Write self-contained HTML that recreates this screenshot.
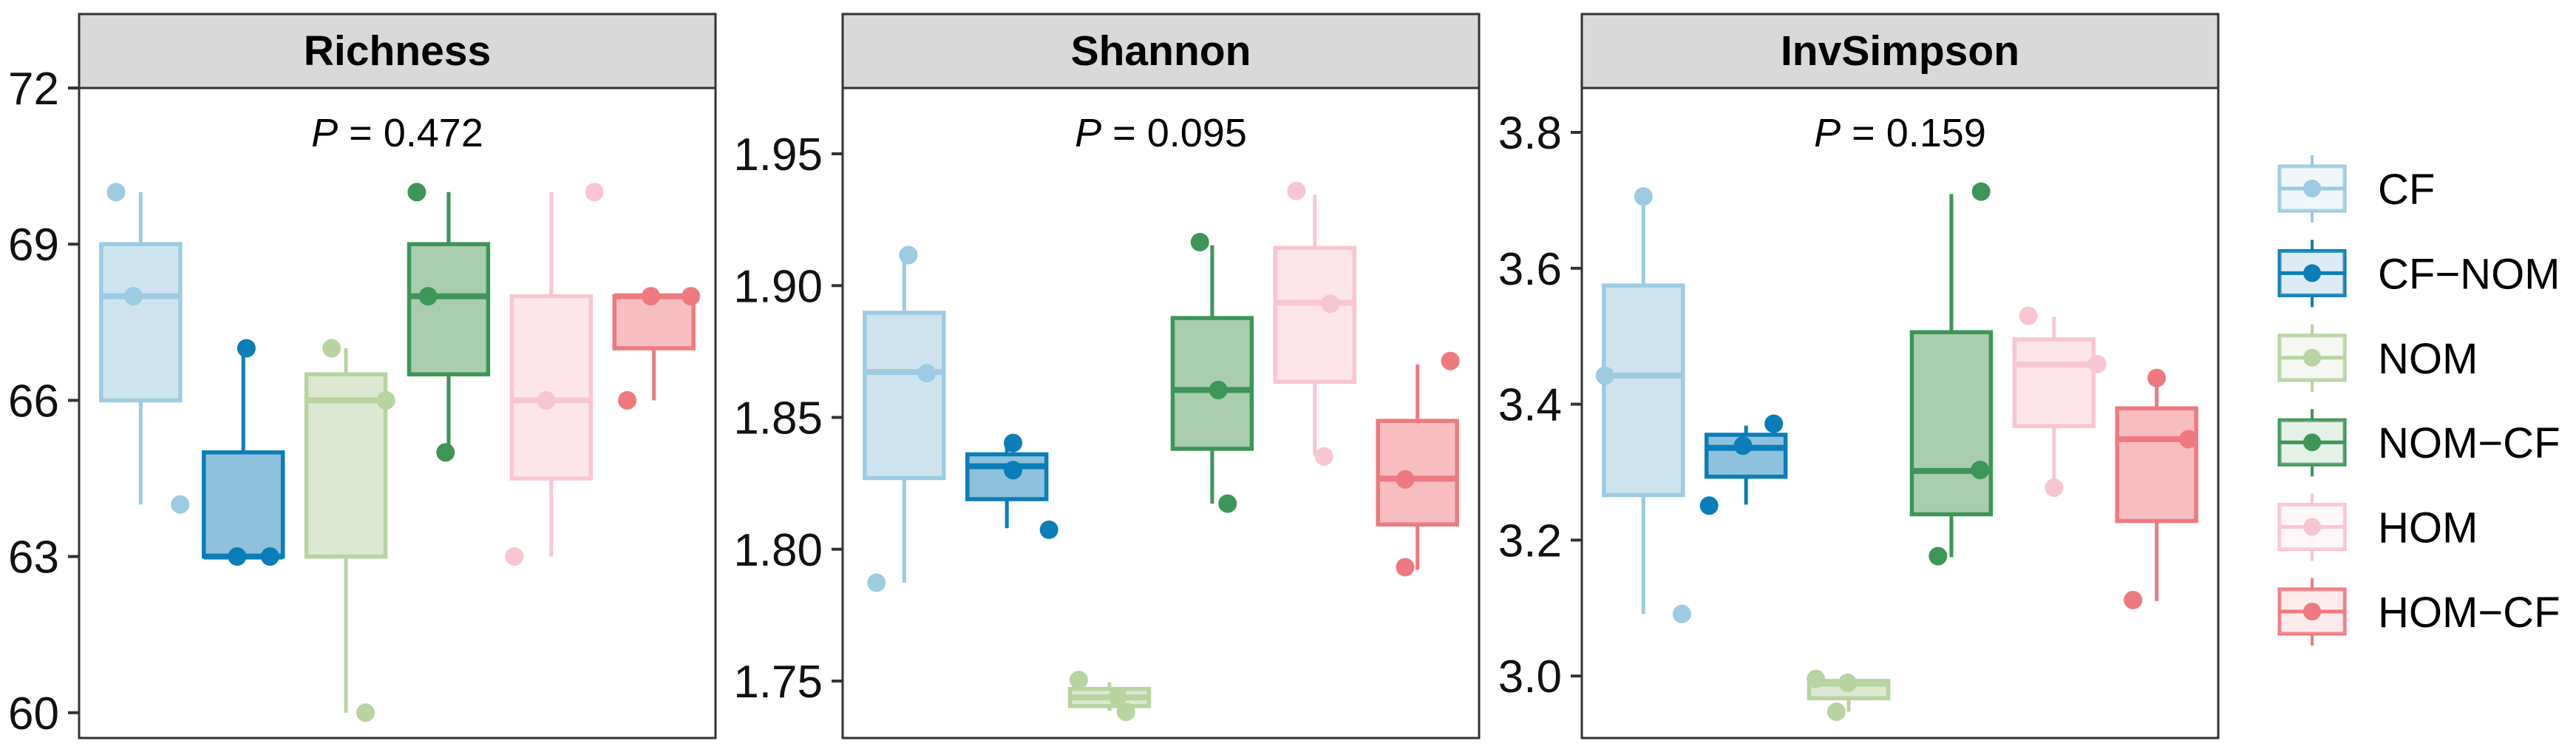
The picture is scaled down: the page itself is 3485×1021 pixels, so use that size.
<!DOCTYPE html>
<html><head><meta charset="utf-8"><style>
html,body{margin:0;padding:0;background:#fff;}
svg{display:block;font-family:"Liberation Sans",Arial,sans-serif;}
</style></head><body>
<svg id="chart" width="3485" height="1021" viewBox="0 0 3485 1021" xmlns="http://www.w3.org/2000/svg"></svg>
<script>
const groups = ["CF","CF-NOM","NOM","NOM-CF","HOM","HOM-CF"];
const strokeColors = ["#9ccbe2","#0b7db8","#b7d4a1","#3d9558","#f8c6d2","#ee7a80"];
const fillColors = ["#cde4ef","#8dc1dc","#dce9d0","#a9cdad","#fde5ea","#f7bdbf"];
const panelTitles = ["Richness","Shannon","InvSimpson"];
const pLabels = ["0.472","0.095","0.159"];
const richnessTicks = [60,63,66,69,72];
const shannonTicks = [1.75,1.80,1.85,1.90,1.95];
const invTicks = [3.0,3.2,3.4,3.6,3.8];
const tickLabels = [["60","63","66","69","72"],["1.75","1.80","1.85","1.90","1.95"],["3.0","3.2","3.4","3.6","3.8"]];
// [lowWhisker, q1, median, q3, highWhisker]
const richnessStats = [[64,66,68,69,70],[63,63,63,65,67],[60,63,66,66.5,67],[65,66.5,68,69,70],[63,64.5,66,68,70],[66,67,68,68,68]];
const richnessPoints = [[70,68,64],[67,63,63],[67,66,60],[70,68,65],[70,66,63],[68,68,66]];
const richnessJitter = [[-0.24,-0.07,0.385],[0.03,-0.06,0.26],[-0.14,0.39,0.19],[-0.31,-0.2,-0.03],[0.42,-0.05,-0.36],[-0.03,0.36,-0.26]];
const shannonStats = [[1.7873,1.827,1.8672,1.8897,1.9089],[1.808,1.819,1.8315,1.836,1.839],[1.7387,1.7405,1.7438,1.747,1.7496],[1.8173,1.8381,1.8604,1.8877,1.9153],[1.8354,1.8635,1.8935,1.9143,1.9345],[1.7922,1.8094,1.8268,1.8487,1.8701]];
const shannonPoints = [[1.9116,1.8668,1.7873],[1.8403,1.830,1.8074],[1.7504,1.7383,1.744],[1.9165,1.8604,1.8173],[1.9359,1.8931,1.8352],[1.8714,1.8265,1.7932]];
const shannonJitter = [[0.04,0.22,-0.27],[0.06,0.06,0.41],[-0.30,0.16,0.08],[-0.12,0.06,0.15],[-0.18,0.15,0.09],[0.32,-0.12,-0.12]];
const invStats = [[3.0913,3.2663,3.4421,3.5746,3.7057],[3.2522,3.2933,3.3358,3.355,3.3684],[2.9474,2.9673,2.9886,2.9928,2.9957],[3.1749,3.238,3.3018,3.5059,3.7093],[3.277,3.3677,3.4584,3.4953,3.5286],[3.1104,3.2281,3.3485,3.3939,3.4386]];
const invPoints = [[3.7057,3.442,3.0913],[3.3712,3.339,3.2507],[2.9957,2.99,2.9474],[3.7128,3.3032,3.1764],[3.53,3.4591,3.277],[3.4386,3.3485,3.1118]];
const invJitter = [[0,-0.375,0.375],[0.27,-0.03,-0.36],[-0.32,-0.01,-0.12],[0.29,0.28,-0.13],[-0.25,0.42,0],[0,0.31,-0.23]];

const NS="http://www.w3.org/2000/svg";
const svg=document.getElementById('chart');
function mk(tag,attrs,parent){const e=document.createElementNS(NS,tag);for(const k in attrs)e.setAttribute(k,attrs[k]);(parent||svg).appendChild(e);return e;}

const panelX=[107,1140,2140], panelW=861, stripTop=19, stripBot=119, panelBot=998;
const yRef=[[72,119,70.4],[1.95,208,3565],[3.8,179,919]];
const statsAll=[richnessStats,shannonStats,invStats];
const pointsAll=[richnessPoints,shannonPoints,invPoints];
const jitterAll=[richnessJitter,shannonJitter,invJitter];
const ticksAll=[richnessTicks,shannonTicks,invTicks];
const unit=panelW/6.2;

for(let p=0;p<3;p++){
  const x0=panelX[p];
  const yS=v=>yRef[p][1]+(yRef[p][0]-v)*yRef[p][2];
  const xS=(i,off)=>x0+(i+0.6+off)*unit;
  const g=mk('g',{});
  
  
  const clipId='clip'+p;
  const cp=mk('clipPath',{id:clipId},g);
  mk('rect',{x:x0,y:stripBot,width:panelW,height:panelBot-stripBot},cp);
  const strip=mk('rect',{x:x0,y:stripTop,width:panelW,height:stripBot-stripTop,fill:'#d9d9d9',stroke:'#333',"stroke-width":3},g);
  
  
  const st=mk('text',{x:x0+panelW/2,y:88,"text-anchor":"middle","font-size":57,"font-weight":"bold",fill:'#000'},g);
  st.textContent=panelTitles[p];
  
  
  const bg=mk('rect',{x:x0,y:stripBot,width:panelW,height:panelBot-stripBot,fill:'#fff',stroke:'none'},g);
  
  
  // ticks
  ticksAll[p].forEach((t,k)=>{
    const yy=yS(t);
    const tl=mk('line',{x1:x0-15,x2:x0,y1:yy,y2:yy,stroke:'#333',"stroke-width":4},g);
    
    
    const tx=mk('text',{x:x0-27,y:yy+22,"text-anchor":"end","font-size":62,fill:'#111'},g);
    tx.textContent=tickLabels[p][k];
    
    
  });
  const pt=mk('text',{x:x0+panelW/2,y:198,"text-anchor":"middle","font-size":54,fill:'#000'},g);
  pt.innerHTML='<tspan font-style="italic">P</tspan> = '+pLabels[p];
  
  
  const inner=mk('g',{"clip-path":'url(#'+clipId+')'},g);
  for(let i=0;i<6;i++){
    const s=statsAll[p][i], cx=xS(i,0), hw=unit*0.385;
    const bx=mk('g',{},inner);
    
    
    mk('line',{x1:cx,x2:cx,y1:yS(s[0]),y2:yS(s[4]),stroke:strokeColors[i],"stroke-width":5},bx);
    mk('rect',{x:cx-hw,y:yS(s[3]),width:2*hw,height:Math.max(1,yS(s[1])-yS(s[3])),fill:fillColors[i],stroke:strokeColors[i],"stroke-width":5.5},bx);
    mk('line',{x1:cx-hw,x2:cx+hw,y1:yS(s[2]),y2:yS(s[2]),stroke:strokeColors[i],"stroke-width":8},bx);
    pointsAll[p][i].forEach((v,k)=>{
      const c=mk('circle',{cx:xS(i,jitterAll[p][i][k]),cy:yS(v),r:12.5,fill:strokeColors[i]},inner);
      
      
    });
  }
  const fr=mk('rect',{x:x0,y:stripBot,width:panelW,height:panelBot-stripBot,fill:'none',stroke:'#333',"stroke-width":3},g);
  
  
}
// legend
const lg=mk('g',{});


groups.forEach((name,i)=>{
  const cy=255+i*114.4, cx=3128;
  const e=mk('g',{},lg);
  
  
  mk('line',{x1:cx,x2:cx,y1:cy-45,y2:cy+46,stroke:strokeColors[i],"stroke-width":4},e);
  mk('rect',{x:3084,y:cy-30,width:88,height:60,fill:'#fff',stroke:strokeColors[i],"stroke-width":5},e);
  mk('rect',{x:3084,y:cy-30,width:88,height:60,fill:fillColors[i],opacity:0.3},e);
  mk('line',{x1:3084,x2:3172,y1:cy,y2:cy,stroke:strokeColors[i],"stroke-width":5},e);
  mk('circle',{cx:cx,cy:cy,r:12,fill:strokeColors[i]},e);
  const t=mk('text',{x:3217,y:cy+21,"font-size":58,fill:'#000'},e);
  t.textContent=name.replace('-','\u2212');
});
</script>
</body></html>
